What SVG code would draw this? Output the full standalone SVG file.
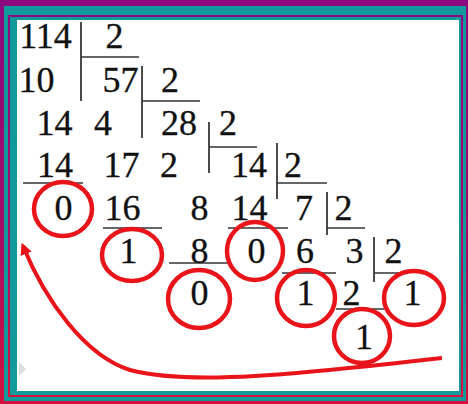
<svg xmlns="http://www.w3.org/2000/svg" width="468" height="404" viewBox="0 0 468 404">
<defs>
<linearGradient id="edge" x1="0" y1="0" x2="0" y2="1">
<stop offset="0" stop-color="#8c0a80"/>
<stop offset="0.5" stop-color="#a00a6a"/>
<stop offset="1" stop-color="#d4123e"/>
</linearGradient>
<marker id="arrow" viewBox="0 0 10 10" refX="7" refY="5" markerWidth="3" markerHeight="3" orient="auto" markerUnits="strokeWidth">
<path d="M0,0 L10,5 L0,10 z" fill="#e8141a"/>
</marker>
<style>
.n{font-size:36px;fill:#111;stroke:#111;stroke-width:0.3;text-anchor:middle}
.v{stroke:#111;stroke-width:1.5}
.h{stroke:#333;stroke-width:1.5}
.c{fill:none;stroke:#e8141a;stroke-width:4.5}
</style>
</defs>
<g id="frame">
<rect x="0" y="0" width="468" height="404" fill="url(#edge)"/>
<rect x="4" y="6" width="462" height="395" fill="#12999b"/>
<rect x="8" y="15" width="455" height="382" fill="url(#edge)"/>
<rect x="10" y="17" width="451" height="378" fill="#12999b"/>
<rect x="17" y="20" width="442" height="371" fill="#ffffff"/>
<polygon points="19,362 26,369 19,376" fill="#dddddd"/>
</g>
<g id="lines">
<line class="v" x1="81" y1="22" x2="81" y2="101"/>
<line class="v" x1="142" y1="66" x2="142" y2="138"/>
<line class="v" x1="209" y1="122" x2="209" y2="173"/>
<line class="v" x1="277" y1="143" x2="277" y2="199"/>
<line class="v" x1="327" y1="192" x2="327" y2="235"/>
<line class="v" x1="374" y1="237" x2="374" y2="282"/>
<line class="h" x1="81" y1="57" x2="139" y2="57"/>
<line class="h" x1="142" y1="101" x2="200" y2="101"/>
<line class="h" x1="209" y1="147" x2="257" y2="147"/>
<line class="h" x1="277" y1="183" x2="327" y2="183"/>
<line class="h" x1="327" y1="228" x2="365" y2="228"/>
<line class="h" x1="374" y1="273" x2="402" y2="273"/>
<line class="h" x1="23" y1="183" x2="83" y2="183"/>
<line class="h" x1="103" y1="228" x2="162" y2="228"/>
<line class="h" x1="228" y1="228" x2="288" y2="228"/>
<line class="h" x1="169" y1="263" x2="228" y2="263"/>
<line class="h" x1="282" y1="273" x2="336" y2="273"/>
<line class="h" x1="336" y1="309" x2="384" y2="309"/>
</g>
<g id="numbers" font-family="Liberation Serif, Times New Roman, DejaVu Serif, serif">
<text class="n" x="45.5" y="48">114</text>
<text class="n" x="114.5" y="48">2</text>
<text class="n" x="36.5" y="92">10</text>
<text class="n" x="120.5" y="92">57</text>
<text class="n" x="170" y="92">2</text>
<text class="n" x="54.5" y="135">14</text>
<text class="n" x="103" y="135">4</text>
<text class="n" x="179" y="135">28</text>
<text class="n" x="228" y="135">2</text>
<text class="n" x="55" y="177">14</text>
<text class="n" x="121.5" y="177">17</text>
<text class="n" x="169" y="177">2</text>
<text class="n" x="249" y="177">14</text>
<text class="n" x="293" y="177">2</text>
<text class="n" x="63.5" y="220">0</text>
<text class="n" x="122.5" y="220">16</text>
<text class="n" x="199.5" y="220">8</text>
<text class="n" x="249.5" y="220">14</text>
<text class="n" x="304" y="220">7</text>
<text class="n" x="343.5" y="220">2</text>
<text class="n" x="128.5" y="263">1</text>
<text class="n" x="199.5" y="263">8</text>
<text class="n" x="256.5" y="263">0</text>
<text class="n" x="305" y="263">6</text>
<text class="n" x="354.5" y="263">3</text>
<text class="n" x="393.5" y="263">2</text>
<text class="n" x="199.5" y="305">0</text>
<text class="n" x="305.5" y="305">1</text>
<text class="n" x="351.5" y="305">2</text>
<text class="n" x="412.5" y="305">1</text>
<text class="n" x="364" y="349">1</text>
</g>
<g id="circles">
<ellipse class="c" cx="63" cy="209" rx="29" ry="27"/>
<ellipse class="c" cx="132" cy="255" rx="30" ry="26"/>
<ellipse class="c" cx="255" cy="251" rx="28" ry="29"/>
<ellipse class="c" cx="199" cy="299" rx="31" ry="29"/>
<ellipse class="c" cx="306" cy="298" rx="29" ry="28"/>
<ellipse class="c" cx="414" cy="298" rx="30" ry="27"/>
<ellipse class="c" cx="362" cy="336" rx="28" ry="27"/>
</g>
<g id="connectors">
<path d="M442,358 C300,374 190,386 130,370 C85,356 45,300 23,246" fill="none" stroke="#e8141a" stroke-width="4" marker-end="url(#arrow)"/>
</g>
</svg>
